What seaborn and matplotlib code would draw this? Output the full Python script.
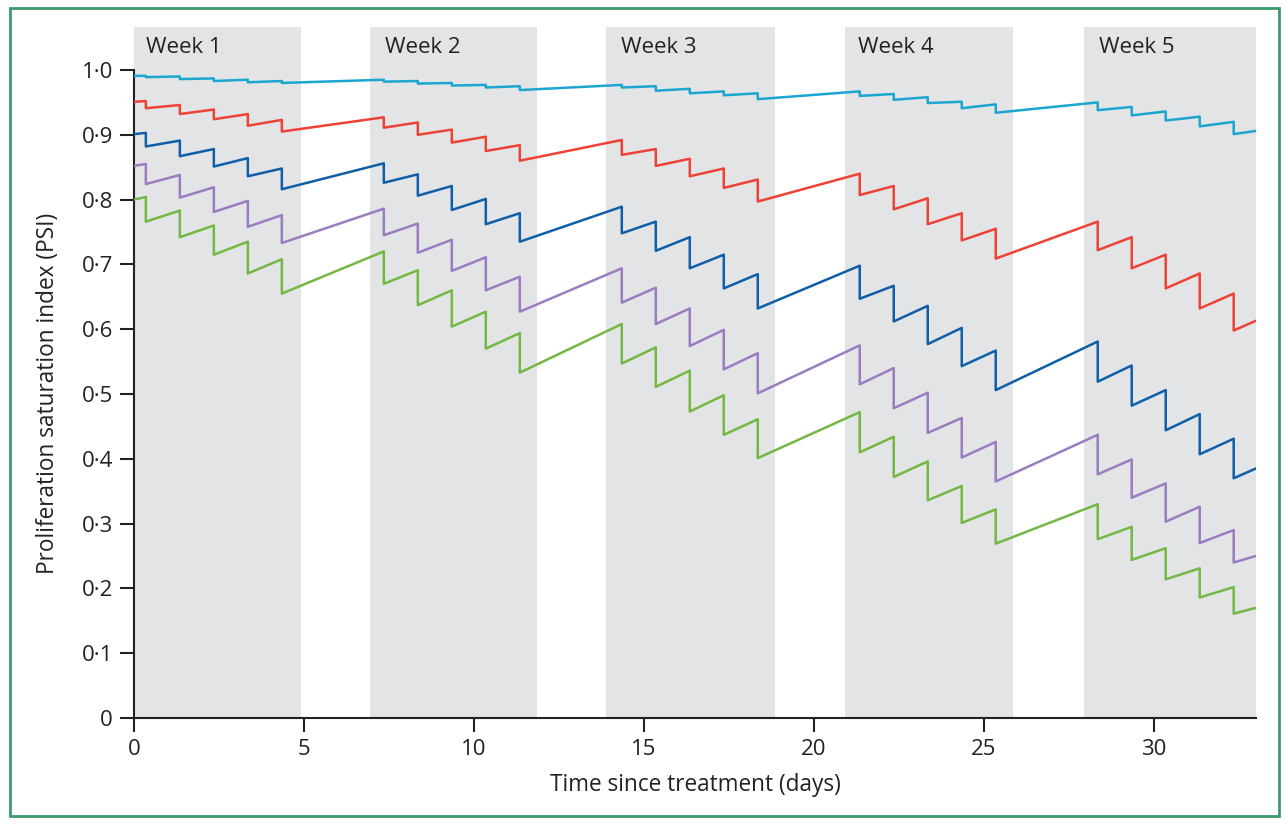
import matplotlib
matplotlib.use("Agg")
import matplotlib.pyplot as plt
import seaborn as sns
import pandas as pd
from matplotlib.patches import Rectangle

# ---------------- data ----------------
dose_days = [0.35, 1.35, 2.35, 3.35, 4.35,
             7.35, 8.35, 9.35, 10.35, 11.35,
             14.35, 15.35, 16.35, 17.35, 18.35,
             21.35, 22.35, 23.35, 24.35, 25.35,
             28.35, 29.35, 30.35, 31.35, 32.35]
t_start = 0.0
t_end = 33.0

week_labels = ["Week 1", "Week 2", "Week 3", "Week 4", "Week 5"]
week_start = [0.0, 6.93, 13.9, 20.93, 27.95]
week_end = [4.92, 11.85, 18.87, 25.85, 33.0]
week_label_x = [0.35, 7.38, 14.32, 21.3, 28.4]

series_names = ["cyan", "red", "blue", "purple", "green"]

cyan_start = 0.991
cyan_before = [0.991, 0.990, 0.987, 0.985, 0.983,
               0.985, 0.983, 0.980, 0.977, 0.975,
               0.977, 0.975, 0.971, 0.967, 0.964,
               0.967, 0.963, 0.958, 0.951, 0.947,
               0.950, 0.943, 0.936, 0.928, 0.920]
cyan_after = [0.989, 0.986, 0.983, 0.981, 0.980,
              0.982, 0.979, 0.976, 0.973, 0.969,
              0.973, 0.968, 0.964, 0.961, 0.955,
              0.960, 0.954, 0.949, 0.941, 0.934,
              0.938, 0.930, 0.922, 0.913, 0.901]
cyan_end = 0.906

red_start = 0.951
red_before = [0.952, 0.946, 0.939, 0.932, 0.923,
              0.927, 0.919, 0.908, 0.897, 0.884,
              0.892, 0.878, 0.863, 0.848, 0.831,
              0.840, 0.821, 0.802, 0.779, 0.755,
              0.766, 0.742, 0.715, 0.686, 0.655]
red_after = [0.941, 0.932, 0.924, 0.914, 0.905,
             0.911, 0.900, 0.888, 0.875, 0.860,
             0.869, 0.852, 0.836, 0.818, 0.797,
             0.807, 0.785, 0.762, 0.737, 0.709,
             0.722, 0.694, 0.663, 0.632, 0.598]
red_end = 0.613

blue_start = 0.901
blue_before = [0.903, 0.891, 0.878, 0.864, 0.848,
               0.856, 0.839, 0.821, 0.801, 0.779,
               0.789, 0.766, 0.742, 0.715, 0.685,
               0.698, 0.667, 0.636, 0.602, 0.567,
               0.581, 0.544, 0.506, 0.469, 0.431]
blue_after = [0.882, 0.867, 0.851, 0.836, 0.816,
              0.826, 0.806, 0.784, 0.762, 0.735,
              0.748, 0.721, 0.694, 0.663, 0.632,
              0.647, 0.612, 0.577, 0.543, 0.506,
              0.519, 0.482, 0.444, 0.407, 0.370]
blue_end = 0.385

purple_start = 0.852
purple_before = [0.855, 0.838, 0.819, 0.798, 0.776,
                 0.786, 0.763, 0.738, 0.711, 0.681,
                 0.694, 0.664, 0.632, 0.599, 0.563,
                 0.575, 0.540, 0.502, 0.463, 0.426,
                 0.437, 0.399, 0.362, 0.326, 0.290]
purple_after = [0.824, 0.803, 0.781, 0.758, 0.733,
                0.745, 0.718, 0.690, 0.660, 0.627,
                0.641, 0.608, 0.574, 0.538, 0.501,
                0.515, 0.478, 0.440, 0.402, 0.365,
                0.376, 0.340, 0.303, 0.270, 0.240]
purple_end = 0.250

green_start = 0.800
green_before = [0.804, 0.783, 0.760, 0.735, 0.708,
                0.720, 0.691, 0.660, 0.627, 0.594,
                0.608, 0.572, 0.536, 0.498, 0.461,
                0.472, 0.434, 0.396, 0.358, 0.322,
                0.330, 0.295, 0.262, 0.231, 0.202]
green_after = [0.766, 0.742, 0.715, 0.686, 0.655,
               0.670, 0.637, 0.604, 0.570, 0.533,
               0.547, 0.511, 0.473, 0.437, 0.401,
               0.410, 0.372, 0.336, 0.301, 0.269,
               0.276, 0.244, 0.214, 0.186, 0.161]
green_end = 0.170

x_ticks = [0, 5, 10, 15, 20, 25, 30]
y_ticks = [0, 0.1, 0.2, 0.3, 0.4, 0.5, 0.6, 0.7, 0.8, 0.9, 1.0]
y_tick_labels = ["0", "0·1", "0·2", "0·3", "0·4", "0·5", "0·6", "0·7", "0·8", "0·9", "1·0"]

colors = {"cyan": "#1ba6cf", "red": "#ee4236", "blue": "#0f5ea8",
          "purple": "#9b7cc0", "green": "#74b843"}

# ------------- build long table -------------
series_data = {
    "cyan": (cyan_start, cyan_before, cyan_after, cyan_end),
    "red": (red_start, red_before, red_after, red_end),
    "blue": (blue_start, blue_before, blue_after, blue_end),
    "purple": (purple_start, purple_before, purple_after, purple_end),
    "green": (green_start, green_before, green_after, green_end),
}
rows = []
for name in series_names:
    s, bef, aft, e = series_data[name]
    rows.append((name, t_start, s))
    for d, b, a in zip(dose_days, bef, aft):
        rows.append((name, d, b))
        rows.append((name, d, a))
    rows.append((name, t_end, e))
df = pd.DataFrame(rows, columns=["series", "t", "psi"])

# ------------- plot -------------
sns.set_style("white")
plt.rcParams["font.family"] = ["Open Sans", "DejaVu Sans"]

fig = plt.figure(figsize=(12.88, 8.25), dpi=100)
ax = fig.add_axes([0.104, 0.1297, 0.871, 0.8373])

for ws, we in zip(week_start, week_end):
    ax.axvspan(ws, we, color="#e3e4e6", lw=0, zorder=0)
for lbl, lx in zip(week_labels, week_label_x):
    ax.text(lx, 1.035, lbl, fontsize=16, ha="left", va="center", color="#222222")

sns.lineplot(data=df, x="t", y="psi", hue="series", palette=colors,
             hue_order=series_names, sort=False, estimator=None,
             legend=False, linewidth=1.8, ax=ax, zorder=3)

ax.set_xlim(0, 33)
ax.set_ylim(0, 1.066)
ax.set_xticks(x_ticks)
ax.set_xticklabels([str(v) for v in x_ticks])
ax.set_yticks(y_ticks)
ax.set_yticklabels(y_tick_labels)
ax.tick_params(axis="both", direction="out", length=10, width=1.5,
               labelsize=16, pad=5, color="#222222", labelcolor="#222222")
ax.tick_params(axis="x", bottom=True)
ax.tick_params(axis="y", left=True)

for sp in ["top", "right"]:
    ax.spines[sp].set_visible(False)
for sp in ["left", "bottom"]:
    ax.spines[sp].set_linewidth(1.5)
    ax.spines[sp].set_color("#222222")
ax.spines["left"].set_bounds(0, 1.0)
ax.spines["bottom"].set_bounds(0, 33)

ax.set_xlabel("Time since treatment (days)", fontsize=16.3, color="#222222")
ax.set_ylabel("Proliferation saturation index (PSI)", fontsize=16.3, color="#222222")
ax.xaxis.set_label_coords(0.5, -0.08)
ax.yaxis.set_label_coords(-0.066, 0.47)

fig.patches.append(Rectangle((10 / 1288, 1 - 816 / 825), (1279 - 10) / 1288, (816 - 7.5) / 825,
                             transform=fig.transFigure, fill=False,
                             edgecolor="#3c9a6d", linewidth=2))

fig.savefig("out.png", dpi=100)
